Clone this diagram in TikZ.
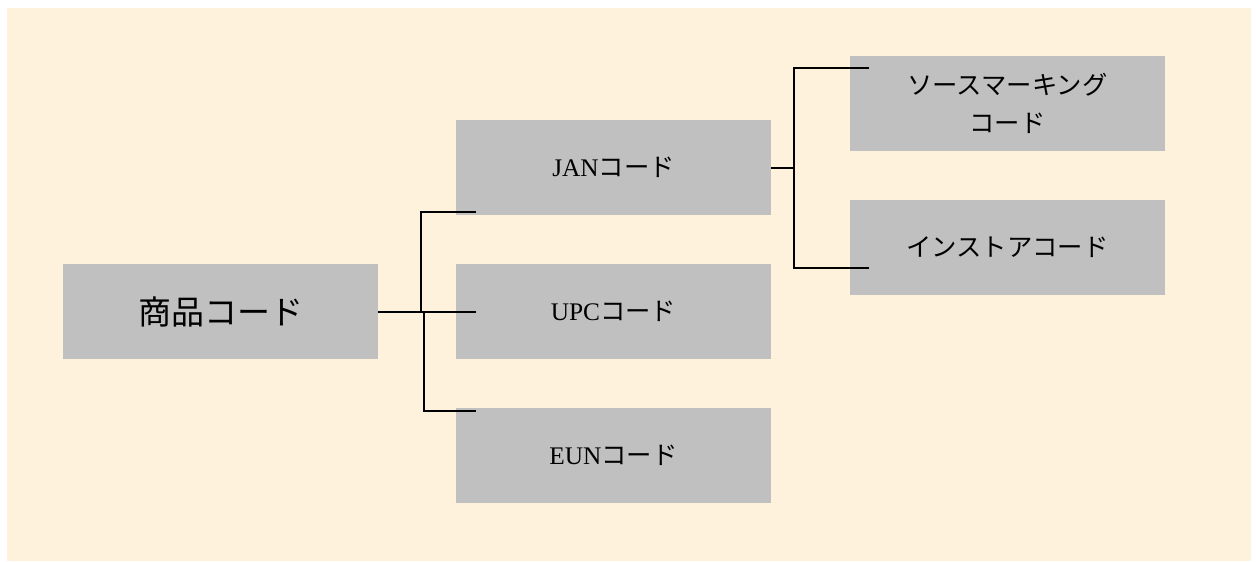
\documentclass[tikz,border=0pt]{standalone}
\usepackage{xcolor}
\usepackage{fontspec}
\usepackage{tikz}
\setmainfont{Liberation Serif}
\newfontfamily\jp{Noto Sans CJK JP}
\definecolor{cream}{RGB}{255,242,220}
\definecolor{boxgray}{RGB}{192,192,192}

\begin{document}
\begin{tikzpicture}[x=.75pt, y=-.75pt,
    codebox/.style={fill=boxgray, draw=none, minimum width=236.25pt, minimum height=71.25pt,
        inner sep=0pt, align=center, font=\fontsize{19}{29}\selectfont},
    link/.style={line width=1.4pt}]
             \useasboundingbox (0,0) rectangle (1257,561);
             \fill[cream] (7,8) rectangle (1251,561);

             \node[codebox, font=\fontsize{24.75}{30}\selectfont] (shohin) at (220.5, 311.5) {\jp 商品コード};
             \node[codebox] (jan) at (613.5, 167.5) {JAN{\jp コード}};
             \node[codebox] (upc) at (613.5, 311.5) {UPC{\jp コード}};
             \node[codebox] (eun) at (613.5, 455.5) {EUN{\jp コード}};
             \node[codebox] (src) at (1007.5, 103.5) {{\jp ソースマーキング}\\{\jp コード}};
             \node[codebox] (ins) at (1007.5, 247.5) {\jp インストアコード};

             % left tree
             \draw[link] ([yshift=-.375pt]shohin.east) -- ([xshift=15pt, yshift=-.375pt]upc.west);
             \draw[link] ([yshift=-.375pt]shohin.east) ++(43,0) |- ([xshift=15pt, yshift=2.25pt]jan.south west);
             \draw[link] ([yshift=-.375pt]shohin.east) ++(46,0) |- ([xshift=15pt, yshift=-2.25pt]eun.north west);

             % right tree
             \draw[link] ([yshift=-.375pt]jan.east) -- ++(23,0) |- ([xshift=14.25pt, yshift=-9pt]src.north west);
             \draw[link] ([yshift=-.375pt]jan.east) ++(23,0) |- ([xshift=14.25pt, yshift=-51pt]ins.north west);
             \end{tikzpicture}
\end{document}
